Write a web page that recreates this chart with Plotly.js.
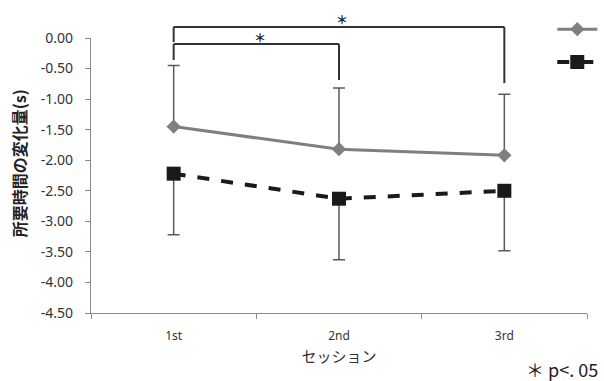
<!DOCTYPE html>
<html>
<head>
<meta charset="utf-8">
<script src="https://cdn.plot.ly/plotly-3.0.1.min.js"></script>
<style>html,body{margin:0;padding:0;background:#fff;}#chart{width:604px;height:381px;}</style>
</head>
<body>
<div id="chart"></div>
<script>
const sessions = ['1st', '2nd', '3rd'];
const seriesA = [-1.45, -1.82, -1.92];
const seriesAErr = [1.0, 1.0, 1.0];
const seriesB = [-2.22, -2.63, -2.50];
const seriesBErr = [1.0, 1.0, 0.98];
const yTickVals = [0, -0.5, -1, -1.5, -2, -2.5, -3, -3.5, -4, -4.5];
const yTickText = ['0.00', '-0.50', '-1.00', '-1.50', '-2.00', '-2.50', '-3.00', '-3.50', '-4.00', '-4.50'];
const yTitle = '所要時間の変化量(s)';
const xTitle = 'セッション';
const noteText = '＊ p<. 05';
// significance comparisons: [fromIndex, toIndex]
const comparisons = [[0, 2], [0, 1]];

const zeros = seriesA.map(() => 0);

const traceA = {
  x: sessions, y: seriesA, type: 'scatter', mode: 'lines+markers', name: ' ',
  line: {color: '#7f7f7f', width: 3},
  marker: {symbol: 'diamond', size: 11, color: '#7f7f7f'},
  error_y: {type: 'data', symmetric: false, array: seriesAErr, arrayminus: zeros,
            color: '#5a5a5a', thickness: 1.5, width: 6}
};
const traceB = {
  x: sessions, y: seriesB, type: 'scatter', mode: 'lines+markers', name: ' ',
  line: {color: '#1a1a1a', width: 4, dash: 'dash'},
  marker: {symbol: 'square', size: 14, color: '#1a1a1a'},
  error_y: {type: 'data', symmetric: false, array: zeros, arrayminus: seriesBErr,
            color: '#5a5a5a', thickness: 1.5, width: 6}
};

// bracket geometry (paper y)
const bracketStyle = [
  {top: 1.04, legA: 0.985, legB: 0.836, starY: 1.104},
  {top: 0.978, legA: 0.92, legB: 0.847, starY: 1.041}
];
const shapes = [];
const annotations = [];
comparisons.forEach((c, i) => {
  const s = bracketStyle[i];
  const x0 = sessions[c[0]], x1 = sessions[c[1]];
  const ln = {color: '#333333', width: 2};
  shapes.push({type: 'line', xref: 'x', yref: 'paper', x0: x0, x1: x1, y0: s.top, y1: s.top, line: ln});
  shapes.push({type: 'line', xref: 'x', yref: 'paper', x0: x0, x1: x0, y0: s.top, y1: s.legA, line: ln});
  shapes.push({type: 'line', xref: 'x', yref: 'paper', x0: x1, x1: x1, y0: s.top, y1: s.legB, line: ln});
  annotations.push({xref: 'x', yref: 'paper', x: (c[0] + c[1]) / 2 + 0.02, y: s.starY, text: '<b>＊</b>',
    showarrow: false, font: {size: 12, color: '#222222', family: 'Noto Sans CJK JP'}});
});
annotations.push({xref: 'paper', yref: 'paper', x: 1.026, y: -0.205, xanchor: 'right', yanchor: 'middle',
  text: noteText, showarrow: false, font: {size: 18, color: '#222', family: 'Noto Sans CJK JP'}});
annotations.push({xref: 'paper', yref: 'paper', x: -0.145, y: 0.545, xanchor: 'center', yanchor: 'middle',
  textangle: -90, text: '<b>' + yTitle + '</b>', showarrow: false,
  font: {size: 16, color: '#222', family: 'Noto Sans CJK JP'}});

const layout = {
  width: 604, height: 381,
  margin: {l: 91, r: 17, t: 38, b: 68, autoexpand: false},
  paper_bgcolor: '#fff', plot_bgcolor: '#fff',
  showlegend: true,
  legend: {x: 0.93, y: 1.11, xanchor: 'left', yanchor: 'top', bgcolor: 'rgba(0,0,0,0)',
           font: {size: 23}, itemwidth: 40, tracegroupgap: 0},
  xaxis: {
    type: 'category', range: [-0.5, 2.5], tickson: 'boundaries',
    ticks: 'outside', ticklen: 5, tickcolor: '#888', showline: true, linecolor: '#888', linewidth: 1.2,
    showgrid: false, zeroline: false,
    tickfont: {size: 12, color: '#333', family: 'Noto Sans'}, ticklabelstandoff: 11,
    title: {text: xTitle, font: {size: 15, color: '#333', family: 'Noto Sans CJK JP'}, standoff: 9}
  },
  yaxis: {
    range: [-4.5, 0], tickvals: yTickVals, ticktext: yTickText,
    ticks: 'outside', ticklen: 5, tickcolor: '#888', showline: true, linecolor: '#888', linewidth: 1.2,
    showgrid: false, zeroline: false,
    tickfont: {size: 14, color: '#333', family: 'Noto Sans'}, ticklabelstandoff: 9
  },
  shapes: shapes,
  annotations: annotations
};

Plotly.newPlot('chart', [traceA, traceB], layout, {displayModeBar: false, staticPlot: true});
</script>
</body>
</html>
